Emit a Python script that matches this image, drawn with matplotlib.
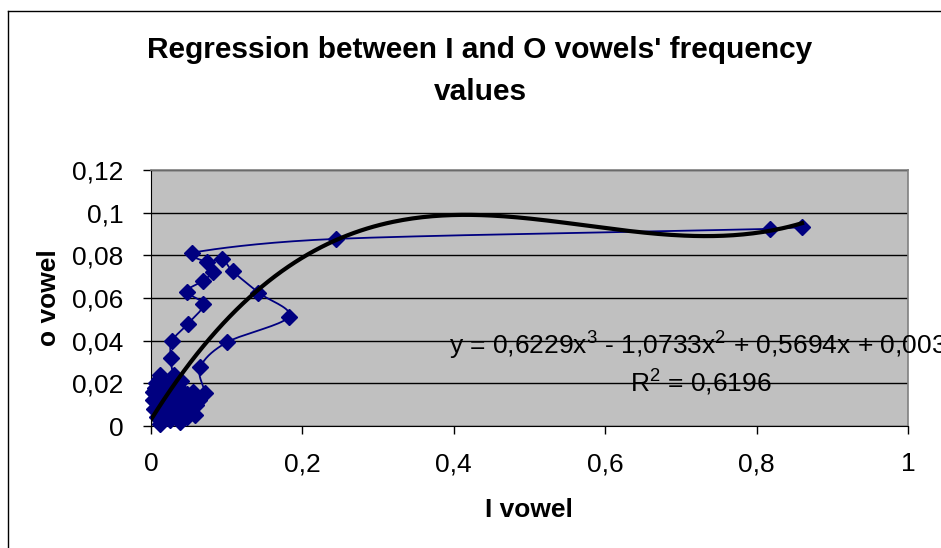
import numpy as np
import matplotlib
matplotlib.use("Agg")
import matplotlib.pyplot as plt
from matplotlib.lines import Line2D

plt.rcParams['font.family'] = ['Liberation Sans', 'DejaVu Sans']
plt.rcParams['mathtext.fontset'] = 'custom'
plt.rcParams['mathtext.rm'] = 'Liberation Sans'
plt.rcParams['mathtext.it'] = 'Liberation Sans'

# data points in the order they are joined by the smoothed line
i_vowel = [0.860, 0.818, 0.244, 0.054, 0.074, 0.094, 0.108, 0.142, 0.182, 0.100,
           0.065, 0.071, 0.063, 0.052, 0.058, 0.048, 0.040, 0.045, 0.050, 0.055,
           0.060, 0.042, 0.033, 0.038, 0.032, 0.025, 0.020, 0.018, 0.012, 0.008,
           0.004, 0.002, 0.003, 0.005, 0.008, 0.014, 0.022, 0.028, 0.024, 0.018,
           0.015, 0.010, 0.006, 0.012, 0.025, 0.020, 0.035, 0.044, 0.030, 0.016,
           0.010, 0.022, 0.036, 0.048, 0.040, 0.030, 0.026, 0.028, 0.049, 0.069,
           0.047, 0.069, 0.082]
o_vowel = [0.0933, 0.0924, 0.0877, 0.0812, 0.0770, 0.0782, 0.0725, 0.0625, 0.0512, 0.0392,
           0.0275, 0.0155, 0.0120, 0.0070, 0.0050, 0.0040, 0.0040, 0.0080, 0.0120, 0.0160,
           0.0100, 0.0160, 0.0130, 0.0020, 0.0060, 0.0030, 0.0090, 0.0060, 0.0010, 0.0040,
           0.0080, 0.0120, 0.0160, 0.0180, 0.0140, 0.0100, 0.0120, 0.0140, 0.0170, 0.0190,
           0.0160, 0.0220, 0.0200, 0.0240, 0.0200, 0.0050, 0.0100, 0.0120, 0.0090, 0.0040,
           0.0070, 0.0150, 0.0180, 0.0150, 0.0210, 0.0240, 0.0320, 0.0400, 0.0480, 0.0570,
           0.0630, 0.0680, 0.0720]

# polynomial trendline coefficients (x^3, x^2, x, 1) as printed on the chart
trend_coef = [0.6229, -1.0733, 0.5694, 0.003]
r_squared = 0.6196

x_ticks = [0, 0.2, 0.4, 0.6, 0.8, 1]
y_ticks = [0, 0.02, 0.04, 0.06, 0.08, 0.1, 0.12]


def fmt(v):
    return ('%g' % v).replace('.', ',')


def smooth(ax, xs, ys, n=20):
    # bezier through the points in screen space, like Excel's smoothed line
    pts = ax.transData.transform(np.column_stack([xs, ys]))
    p = np.vstack([pts[0], pts, pts[-1]])
    out = []
    t = np.linspace(0, 1, n)[:, None]
    for i in range(1, len(p) - 2):
        p0, p1, p2, p3 = p[i - 1], p[i], p[i + 1], p[i + 2]
        seg_len = np.linalg.norm(p2 - p1)
        h1 = (p2 - p0) / 6
        h2 = (p3 - p1) / 6
        # keep handles shorter than half the segment so nothing overshoots
        for h in (h1, h2):
            ln = np.linalg.norm(h)
            if ln > seg_len / 2 and ln > 0:
                h *= (seg_len / 2) / ln
        c1 = p1 + h1
        c2 = p2 - h2
        seg = (1 - t) ** 3 * p1 + 3 * (1 - t) ** 2 * t * c1 + 3 * (1 - t) * t ** 2 * c2 + t ** 3 * p2
        out.append(seg)
    out = np.vstack(out)
    return ax.transData.inverted().transform(out)


fig = plt.figure(figsize=(9.41, 5.48), dpi=100)
ax = fig.add_axes([151 / 941, 1 - 426 / 548, (908 - 151) / 941, (426 - 170) / 548])
ax.set_facecolor('#C0C0C0')
ax.set_xlim(0, 1)
ax.set_ylim(0, 0.12)

ax.set_xticks(x_ticks)
ax.set_yticks(y_ticks)
ax.set_xticklabels([fmt(v) for v in x_ticks])
ax.set_yticklabels([fmt(v) for v in y_ticks])
ax.tick_params(labelsize=19, length=6, width=1, direction='out', pad=14)
ax.tick_params(axis='x', pad=13)

ax.grid(axis='y', color='black', linewidth=1)
ax.set_axisbelow(True)
for side in ['top', 'right']:
    ax.spines[side].set_color('#808080')
    ax.spines[side].set_linewidth(1.2)
for side in ['left', 'bottom']:
    ax.spines[side].set_color('black')

curve = smooth(ax, i_vowel, o_vowel)
ax.plot(curve[:, 0], curve[:, 1], color='#000080', linewidth=1.3, zorder=3)
ax.plot(i_vowel, o_vowel, linestyle='none', marker='D', markersize=8.5,
        color='#000080', zorder=4, clip_on=False)

xt = np.linspace(0, max(i_vowel), 200)
ax.plot(xt, np.polyval(trend_coef, xt), color='black', linewidth=3, zorder=5)

fig.text(529 / 941, 1 - 510 / 548, 'I vowel', fontsize=19, fontweight='bold',
         ha='center', va='center')
fig.text(49 / 941, 1 - 298 / 548, 'o vowel', fontsize=19, fontweight='bold',
         ha='center', va='center', rotation=90)

fig.text(480 / 941, 1 - 50 / 548, "Regression between I and O vowels' frequency",
         fontsize=21.5, fontweight='bold', ha='center', va='center')
fig.text(480 / 941, 1 - 92 / 548, 'values', fontsize=21.5, fontweight='bold',
         ha='center', va='center')

# the equation runs past the right edge of the chart, as in the original
eq = r'y = 0,6229x$^{3}$ - 1,0733x$^{2}$ + 0,5694x + 0,003'
fig.text(449 / 941, 1 - 346 / 548, eq, fontsize=19, va='center', ha='left')
fig.text(630 / 941, 1 - 383 / 548, r'R$^{2}$ = ' + fmt(r_squared), fontsize=19,
         va='center', ha='left')

fig.add_artist(Line2D([8 / 941, 8 / 941], [0, 1 - 11 / 548], color='black', linewidth=1))
fig.add_artist(Line2D([8 / 941, 1], [1 - 11 / 548, 1 - 11 / 548], color='black', linewidth=1))

fig.savefig('out.png', dpi=100)
